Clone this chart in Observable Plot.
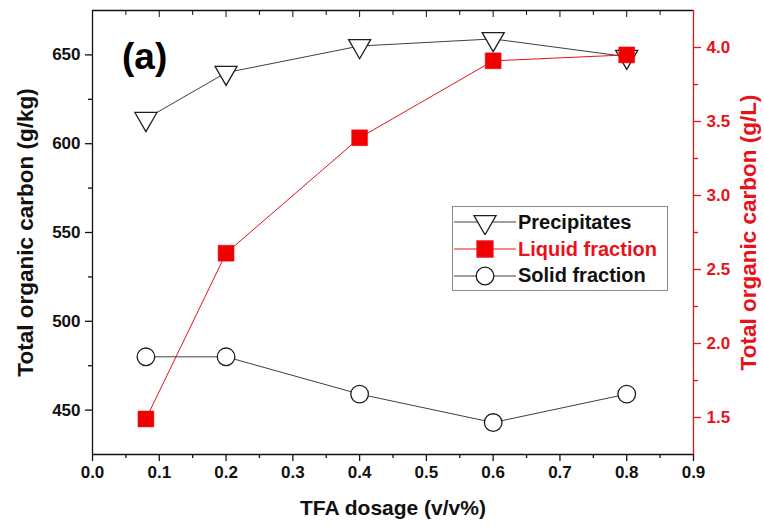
<!DOCTYPE html>
<html><head><meta charset="utf-8">
<script src="https://cdn.jsdelivr.net/npm/d3@7"></script>
<script src="https://cdn.jsdelivr.net/npm/@observablehq/plot@0.6"></script>
<style>
body{margin:0;background:#fff;}
#chart{position:relative;width:764px;height:527px;font-family:"Liberation Sans",Arial,sans-serif;font-weight:bold;}
#chart svg.layer{position:absolute;left:0;top:0;}
#chart g[aria-label="x-axis label"] text{font-size:21px;}
#chart g[aria-label="y-axis label"] text{font-size:22.5px;}
#panel{position:absolute;left:122px;top:38px;font-size:37px;line-height:1;}
#legend{position:absolute;left:452px;top:206px;width:216px;height:85px;border:1px solid #8a8a8a;background:#fff;box-sizing:border-box;padding-top:2px;}
#legend .row{display:flex;align-items:center;height:26.8px;font-size:20px;}
#legend svg{flex:none;margin-right:1px;}
</style></head><body><div id="chart"></div>
<script>
// ---- data ----
const dosage = [0.08, 0.2, 0.4, 0.6, 0.8];
const precipitates = [614, 640, 655, 659, 649];      // g/kg (left axis)
const solidFraction = [480, 480, 459, 443, 459];     // g/kg (left axis)
const liquidFraction = [1.49, 2.61, 3.39, 3.91, 3.95]; // g/L (right axis)
const xTicks = [0, 0.1, 0.2, 0.3, 0.4, 0.5, 0.6, 0.7, 0.8, 0.9];
const leftTicks = [450, 500, 550, 600, 650];
const rightTicks = [1.5, 2.0, 2.5, 3.0, 3.5, 4.0];
const seriesNames = ["Precipitates", "Liquid fraction", "Solid fraction"];
const xDomain = [0, 0.9], leftDomain = [425, 675], rightDomain = [1.25, 4.25];

const RED = "#e8121a", LINE = "#3f3f3f", MK = "#1e1e1e";
const xMinor = d3.range(0.05, 0.9, 0.1);
const leftMinor = d3.range(475, 675, 50);
const rightMinor = d3.range(1.75, 4.0, 0.5);

const triDown = {draw(ctx, size){
  const h = Math.sqrt(size / (3 * Math.sqrt(3))), s = Math.sqrt(3) * h;
  ctx.moveTo(0, 2 * h); ctx.lineTo(-s, -h); ctx.lineTo(s, -h); ctx.closePath();
}};

const rows = (ys) => dosage.map((x, i) => ({x, y: ys[i]}));
const common = {
  width: 764, height: 527, marginTop: 10, marginRight: 71, marginBottom: 73, marginLeft: 92,
  style: {background: "transparent", fontFamily: "'Liberation Sans', Arial, sans-serif", fontWeight: "bold", fontSize: "17px", color: "#111", overflow: "visible"}
};

const p1 = Plot.plot({
  ...common,
  x: {domain: xDomain},
  y: {domain: leftDomain},
  marks: [
    Plot.ruleX([xDomain[0]], {stroke: "#111", strokeWidth: 1.3}),
    Plot.ruleY([leftDomain[0], leftDomain[1]], {stroke: "#111", strokeWidth: 1.3}),
    Plot.axisX({ticks: xTicks, tickSize: 7, tickPadding: 4, strokeWidth: 1.3, tickFormat: d3.format(".1f"), label: "TFA dosage (v/v%)", labelAnchor: "center", labelArrow: "none", labelOffset: 60}),
    Plot.axisX({ticks: xMinor, tickSize: 4, strokeWidth: 1.3, tickFormat: () => "", label: null}),
    Plot.axisX({anchor: "top", ticks: xTicks, tickSize: -6, strokeWidth: 1, tickFormat: () => "", label: null}),
    Plot.axisX({anchor: "top", ticks: xMinor, tickSize: -4, strokeWidth: 1, tickFormat: () => "", label: null}),
    Plot.axisY({ticks: leftTicks, tickSize: 7, tickPadding: 5, strokeWidth: 1.3, label: "Total organic carbon (g/kg)", labelAnchor: "center", labelArrow: "none", labelOffset: 75}),
    Plot.axisY({ticks: leftMinor, tickSize: 4, strokeWidth: 1.3, tickFormat: () => "", label: null}),
    Plot.line(rows(precipitates), {x: "x", y: "y", stroke: LINE, strokeWidth: 1}),
    Plot.dot(rows(precipitates), {x: "x", y: "y", symbol: triDown, r: 8.2, stroke: MK, strokeWidth: 1.3, fill: "white"}),
    Plot.line(rows(solidFraction), {x: "x", y: "y", stroke: LINE, strokeWidth: 1}),
    Plot.dot(rows(solidFraction), {x: "x", y: "y", symbol: "circle", r: 8.8, stroke: MK, strokeWidth: 1.3, fill: "white"})
  ]
});

const p2 = Plot.plot({
  ...common,
  x: {domain: xDomain, axis: null},
  y: {domain: rightDomain},
  marks: [
    Plot.ruleX([xDomain[1]], {stroke: RED, strokeWidth: 1.3}),
    Plot.axisY({anchor: "right", ticks: rightTicks, tickSize: 7, tickPadding: 6, strokeWidth: 1.3, color: RED, tickFormat: d3.format(".1f"), label: "Total organic carbon (g/L)", labelAnchor: "center", labelArrow: "none", labelOffset: 62}),
    Plot.axisY({anchor: "right", ticks: rightMinor, tickSize: 4, strokeWidth: 1.3, color: RED, tickFormat: () => "", label: null}),
    Plot.line(rows(liquidFraction), {x: "x", y: "y", stroke: RED, strokeWidth: 1}),
    Plot.dot(rows(liquidFraction), {x: "x", y: "y", symbol: "square", r: 9, stroke: RED, strokeWidth: 0.5, fill: "#f00000"})
  ]
});

const chart = document.getElementById("chart");
[p1, p2].forEach(p => { p.classList.add("layer"); chart.appendChild(p); });
p2.querySelectorAll('g[aria-label$="axis label"] text').forEach(t => t.setAttribute("fill", RED));

const panel = document.createElement("div");
panel.id = "panel"; panel.textContent = "(a)";
chart.appendChild(panel);

// legend
const legend = document.createElement("div");
legend.id = "legend";
const styles = [
  {stroke: LINE, symbol: triDown, fill: "white", mstroke: MK, color: "#111", r: 8.2},
  {stroke: RED, symbol: d3.symbolSquare, fill: "#f00000", mstroke: RED, color: RED, r: 9},
  {stroke: LINE, symbol: d3.symbolCircle, fill: "white", mstroke: MK, color: "#111", r: 8.8}
];
seriesNames.forEach((name, i) => {
  const st = styles[i];
  const row = document.createElement("div");
  row.className = "row";
  const ns = "http://www.w3.org/2000/svg";
  const svg = document.createElementNS(ns, "svg");
  svg.setAttribute("width", 64); svg.setAttribute("height", 26);
  const ln = document.createElementNS(ns, "line");
  ln.setAttribute("x1", 1); ln.setAttribute("x2", 63); ln.setAttribute("y1", 13); ln.setAttribute("y2", 13);
  ln.setAttribute("stroke", st.stroke); ln.setAttribute("stroke-width", 1);
  svg.appendChild(ln);
  const path = document.createElementNS(ns, "path");
  path.setAttribute("d", d3.symbol(st.symbol, Math.PI * st.r * st.r)());
  path.setAttribute("transform", "translate(32,13)");
  path.setAttribute("fill", st.fill); path.setAttribute("stroke", st.mstroke); path.setAttribute("stroke-width", 1.3);
  svg.appendChild(path);
  row.appendChild(svg);
  const span = document.createElement("span");
  span.textContent = name; span.style.color = st.color;
  row.appendChild(span);
  legend.appendChild(row);
});
chart.appendChild(legend);
</script>
</body></html>
